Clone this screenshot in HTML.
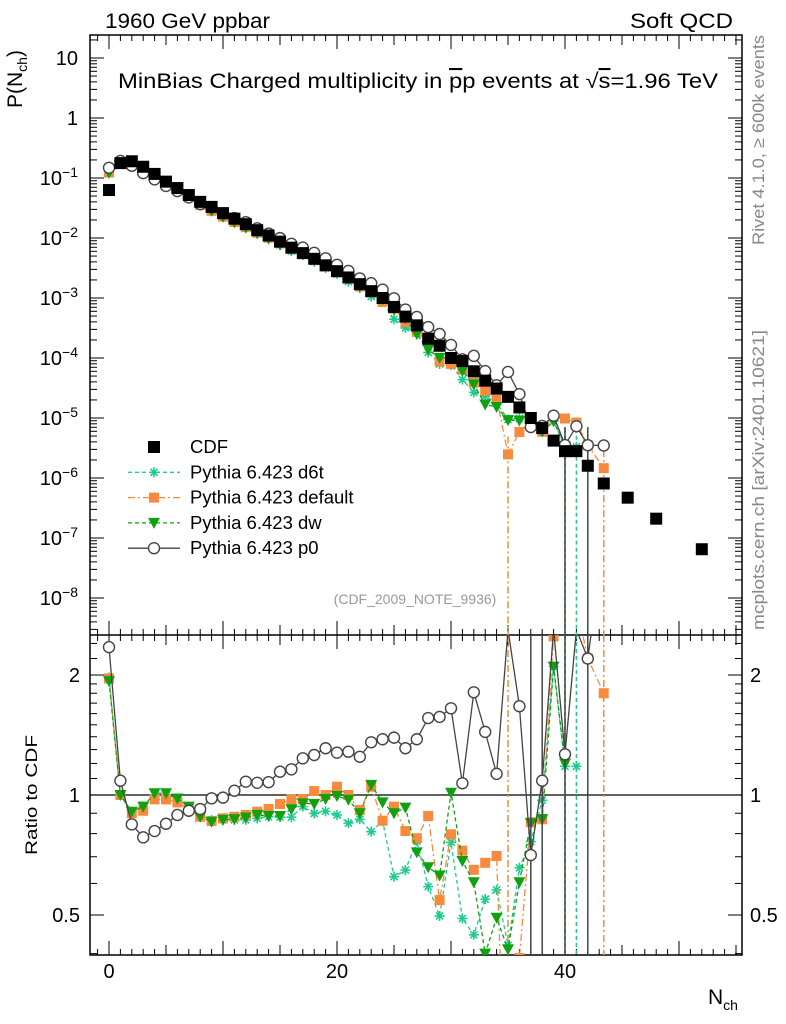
<!DOCTYPE html>
<html><head><meta charset="utf-8"><style>
html,body{margin:0;background:#fff;width:786px;height:1024px;overflow:hidden}
svg{font-family:"Liberation Sans",sans-serif;display:block}
</style></head><body>
<svg id="c" width="786" height="1024" viewBox="0 0 786 1024">
<defs>
<clipPath id="cm"><rect x="90" y="35" width="652" height="600"/></clipPath>
<clipPath id="cr"><rect x="90" y="635" width="652" height="320"/></clipPath>
</defs>
<text x="105" y="28" font-size="21" textLength="165" lengthAdjust="spacingAndGlyphs">1960 GeV ppbar</text>
<text x="630" y="28" font-size="21" textLength="103" lengthAdjust="spacingAndGlyphs">Soft QCD</text>
<text x="118" y="88" font-size="21" textLength="600" lengthAdjust="spacingAndGlyphs">MinBias Charged multiplicity in <tspan text-decoration="overline">p</tspan>p events at √<tspan text-decoration="overline">s</tspan>=1.96 TeV</text>
<text x="415" y="604" font-size="14" fill="#999" text-anchor="middle">(CDF_2009_NOTE_9936)</text>
<text transform="translate(764,245) rotate(-90)" font-size="17" fill="#888" textLength="210" lengthAdjust="spacingAndGlyphs">Rivet 4.1.0, ≥ 600k events</text>
<text transform="translate(764,630) rotate(-90)" font-size="17" fill="#888" textLength="300" lengthAdjust="spacingAndGlyphs">mcplots.cern.ch [arXiv:2401.10621]</text>
<text transform="translate(22,108) rotate(-90)" font-size="21">P(N<tspan font-size="14" dy="5">ch</tspan><tspan dy="-5">)</tspan></text>
<text transform="translate(37,855) rotate(-90)" font-size="17" textLength="120" lengthAdjust="spacingAndGlyphs">Ratio to CDF</text>
<text x="708" y="1004" font-size="21">N<tspan font-size="14" dy="6">ch</tspan></text>
<g id="axes"></g>
<g id="marks"></g>
<g id="legend"></g>
</svg>
<script>
const xs=[0,1,2,3,4,5,6,7,8,9,10,11,12,13,14,15,16,17,18,19,20,21,22,23,24,25,26,27,28,29,30,31,32,33,34,35,36,37,38,39,40,41,42,43.4,45.5,48,52];
const cdf=[0.063,0.177,0.19,0.154,0.117,0.087,0.068,0.052,0.040,0.033,0.026,0.021,0.017,0.0135,0.011,0.0087,0.0069,0.0056,0.0045,0.0035,0.0028,0.0022,0.0017,0.0013,0.001,7.1e-4,4.9e-4,3.5e-4,2.1e-4,1.6e-4,1.0e-4,8.9e-5,6.0e-5,4.2e-5,3.1e-5,2.25e-5,1.5e-5,1.0e-5,6.8e-6,4.2e-6,2.8e-6,2.8e-6,1.6e-6,8.1e-7,4.7e-7,2.1e-7,6.5e-8];
const rP0=[2.35,1.086,0.844,0.783,0.812,0.847,0.891,0.913,0.922,0.981,0.985,1.025,1.08,1.073,1.077,1.144,1.16,1.236,1.26,1.31,1.277,1.284,1.247,1.356,1.38,1.393,1.31,1.38,1.56,1.57,1.65,1.07,1.81,1.44,1.13,2.6,1.67,0.707,1.086,2.6,1.265,2.6,2.2,4.3];
const rDef=[1.96,1.0,0.90,0.913,0.975,0.975,0.958,0.923,0.882,0.86,0.874,0.882,0.891,0.908,0.923,0.949,0.975,0.977,1.023,1.0,1.049,1.0,0.917,1.049,0.862,0.935,0.812,0.779,0.886,0.545,0.797,0.725,0.649,0.676,0.703,0.11,0.39,0.854,0.869,2.5,3.5,3.0,2.2,1.8];
const rDw=[1.93,1.0,0.908,0.935,1.01,1.01,0.98,0.935,0.882,0.857,0.866,0.87,0.878,0.891,0.886,0.886,0.921,0.953,0.95,0.977,0.994,0.973,0.90,1.06,0.958,0.90,0.93,0.718,0.659,0.628,1.013,0.683,0.604,0.40,0.492,0.41,0.604,0.85,0.87,2.1,1.2];
const rD6t=[1.97,1.0,0.908,0.935,1.0,1.0,0.98,0.935,0.891,0.866,0.866,0.866,0.866,0.874,0.882,0.88,0.88,0.935,0.899,0.91,0.891,0.85,0.869,0.809,0.86,0.624,0.648,0.767,0.589,0.497,0.761,0.49,0.446,0.548,0.578,0.42,0.657,0.764,0.97,2.1,1.18,1.18];
// bin indices whose uncertainty reaches zero (main panel / ratio panel)
const dropP0=[40,42];
const dropP0Ratio=[37,38,40,42];
const dropDef=[35,43];
const dropDw=[40];
const dropD6t=[41];
const yTickExp=[1,0,-1,-2,-3,-4,-5,-6,-7,-8];
const rTicks=[2,1,0.5];
const xTicks=[0,20,40];

const NS="http://www.w3.org/2000/svg";
const BOT=955;
const X=n=>109+11.4*n;
const Y=v=>v>0?118-60*Math.log10(v):700;
const R=r=>r>0?795-398.6*Math.log10(r):1100;
function mk(t,a,p){const e=document.createElementNS(NS,t);for(const k in a)e.setAttribute(k,a[k]);(p||document.getElementById('marks')).appendChild(e);return e;}
const ax=document.getElementById('axes');
let f=mk('rect',{x:90,y:35,width:652,height:BOT-35,fill:'none',stroke:'#000','stroke-width':1.5},ax);


let d=mk('line',{x1:90,x2:742,y1:635,y2:635,stroke:'#000','stroke-width':1.5},ax);


let one=mk('line',{x1:90,x2:742,y1:R(1),y2:R(1),stroke:'#000','stroke-width':1.2},ax);


for(let e=-9;e<=1;e++){for(let m=1;m<10;m++){const y=Y(m*Math.pow(10,e));if(y<35||y>635)continue;const L=m==1?14:7;
mk('line',{x1:90,x2:90+L,y1:y,y2:y,stroke:'#000'},ax);mk('line',{x1:742,x2:742-L,y1:y,y2:y,stroke:'#000'},ax);}}
yTickExp.forEach(e=>{const t=mk('text',{x:78,y:Y(Math.pow(10,e))+7,'font-size':20,'text-anchor':'end'},ax);


if(e==1)t.textContent='10';else if(e==0)t.textContent='1';else{t.textContent='10';const s=mk('tspan',{'font-size':14,dy:-8},t);s.textContent=String(e).replace('-','−');}});
[0.4,0.5,0.6,0.7,0.8,0.9,1,1.1,1.2,1.3,1.4,1.5,1.6,1.7,1.8,1.9,2,2.2,2.4].forEach(r=>{const y=R(r);if(y<635||y>BOT)return;const L=[0.5,1,2].includes(r)?14:7;
mk('line',{x1:90,x2:90+L,y1:y,y2:y,stroke:'#000'},ax);mk('line',{x1:742,x2:742-L,y1:y,y2:y,stroke:'#000'},ax);});
rTicks.forEach(r=>{[[80,'end'],[750,'start']].forEach(([x,a])=>{const t=mk('text',{x:x,y:R(r)+7,'font-size':20,'text-anchor':a},ax);t.textContent=String(r);

});});
for(let n=-1;n<=55;n++){const x=X(n);if(x<91||x>741)continue;const L=n%10==0?14:(n%5==0?10:6);
[[35,1],[635,1],[635,-1],[BOT,-1]].forEach(([y,s])=>mk('line',{x1:x,x2:x,y1:y,y2:y+s*L,stroke:'#000'},ax));}
xTicks.forEach(n=>{const t=mk('text',{x:X(n),y:978,'font-size':20,'text-anchor':'middle'},ax);t.textContent=n;

});
function marker(g,type,x,y,col){
 if(type=='sq')return mk('rect',{x:x-6,y:y-6,width:12,height:12,fill:col},g);
 if(type=='osq')return mk('rect',{x:x-5,y:y-5,width:10,height:10,fill:col},g);
 if(type=='tri')return mk('path',{d:`M${x-6},${y-5}L${x+6},${y-5}L${x},${y+6}Z`,fill:col},g);
 if(type=='star'){let p='';for(let i=0;i<4;i++){const a=i*Math.PI/4;p+=`M${x-5*Math.cos(a)},${y-5*Math.sin(a)}L${x+5*Math.cos(a)},${y+5*Math.sin(a)}`;}return mk('path',{d:p,stroke:col,'stroke-width':1.6,fill:'none'},g);}
 return mk('circle',{cx:x,cy:y,r:5.5,fill:'#fff',stroke:col,'stroke-width':1.4},g);
}
const series=[
 {name:'d6t',r:rD6t,drop:dropD6t,dropR:dropD6t,col:'#1fcc90',type:'star',dash:'4,3',label:'Pythia 6.423 d6t'},
 {name:'default',r:rDef,drop:dropDef,dropR:dropDef,col:'#f78a3c',type:'osq',dash:'7,3,2,3',label:'Pythia 6.423 default'},
 {name:'dw',r:rDw,drop:dropDw,dropR:dropDw,col:'#10a010',type:'tri',dash:'4,3',label:'Pythia 6.423 dw'},
 {name:'p0',r:rP0,drop:dropP0,dropR:dropP0Ratio,col:'#444',type:'circ',dash:'',label:'Pythia 6.423 p0'}];
const mg=mk('g',{'clip-path':'url(#cm)'});
const rg=mk('g',{'clip-path':'url(#cr)'});
series.forEach(s=>{
 let pm='',pr='';
 s.r.forEach((r,i)=>{const v=cdf[i]*r;pm+=(i?'L':'M')+X(xs[i])+','+Y(v);pr+=(i?'L':'M')+X(xs[i])+','+R(r);});
 const l1=mk('path',{d:pm,fill:'none',stroke:s.col,'stroke-width':1.3,'stroke-dasharray':s.dash},mg);
 
 
 const l2=mk('path',{d:pr,fill:'none',stroke:s.col,'stroke-width':1.3,'stroke-dasharray':s.dash},rg);
 
 
 s.drop.forEach(i=>{const x=X(xs[i]);const v=cdf[i]*s.r[i];
  const e1=mk('line',{x1:x,x2:x,y1:Y(v*2),y2:640,stroke:s.col,'stroke-width':1.5,'stroke-dasharray':s.dash},mg);
  
  });
 s.dropR.forEach(i=>{const x=X(xs[i]);
  const e2=mk('line',{x1:x,x2:x,y1:635,y2:BOT,stroke:s.col,'stroke-width':1.5,'stroke-dasharray':s.dash},rg);
  
  });
 s.r.forEach((r,i)=>{if(r<=0)return;
  const m1=marker(mg,s.type,X(xs[i]),Y(cdf[i]*r),s.col);
  
  
  const m2=marker(rg,s.type,X(xs[i]),R(r),s.col);
  
  });
});
cdf.forEach((v,i)=>{const m=marker(mg,'sq',X(xs[i]),Y(v),'#000');
 
 });
const lg=document.getElementById('legend');
const items=[{type:'sq',col:'#000',dash:null,label:'CDF',name:'cdf'}].concat(series);
items.forEach((s,i)=>{const y=447+25.3*i;const g=mk('g',{},lg);
 
 
 if(s.dash!==null)mk('line',{x1:128,x2:180,y1:y,y2:y,stroke:s.col,'stroke-width':1.3,'stroke-dasharray':s.dash},g);
 marker(g,s.type,154,y,s.col);
 const t=mk('text',{x:190,y:y+6,'font-size':18.5},g);t.textContent=s.label;});
</script>
</body></html>
